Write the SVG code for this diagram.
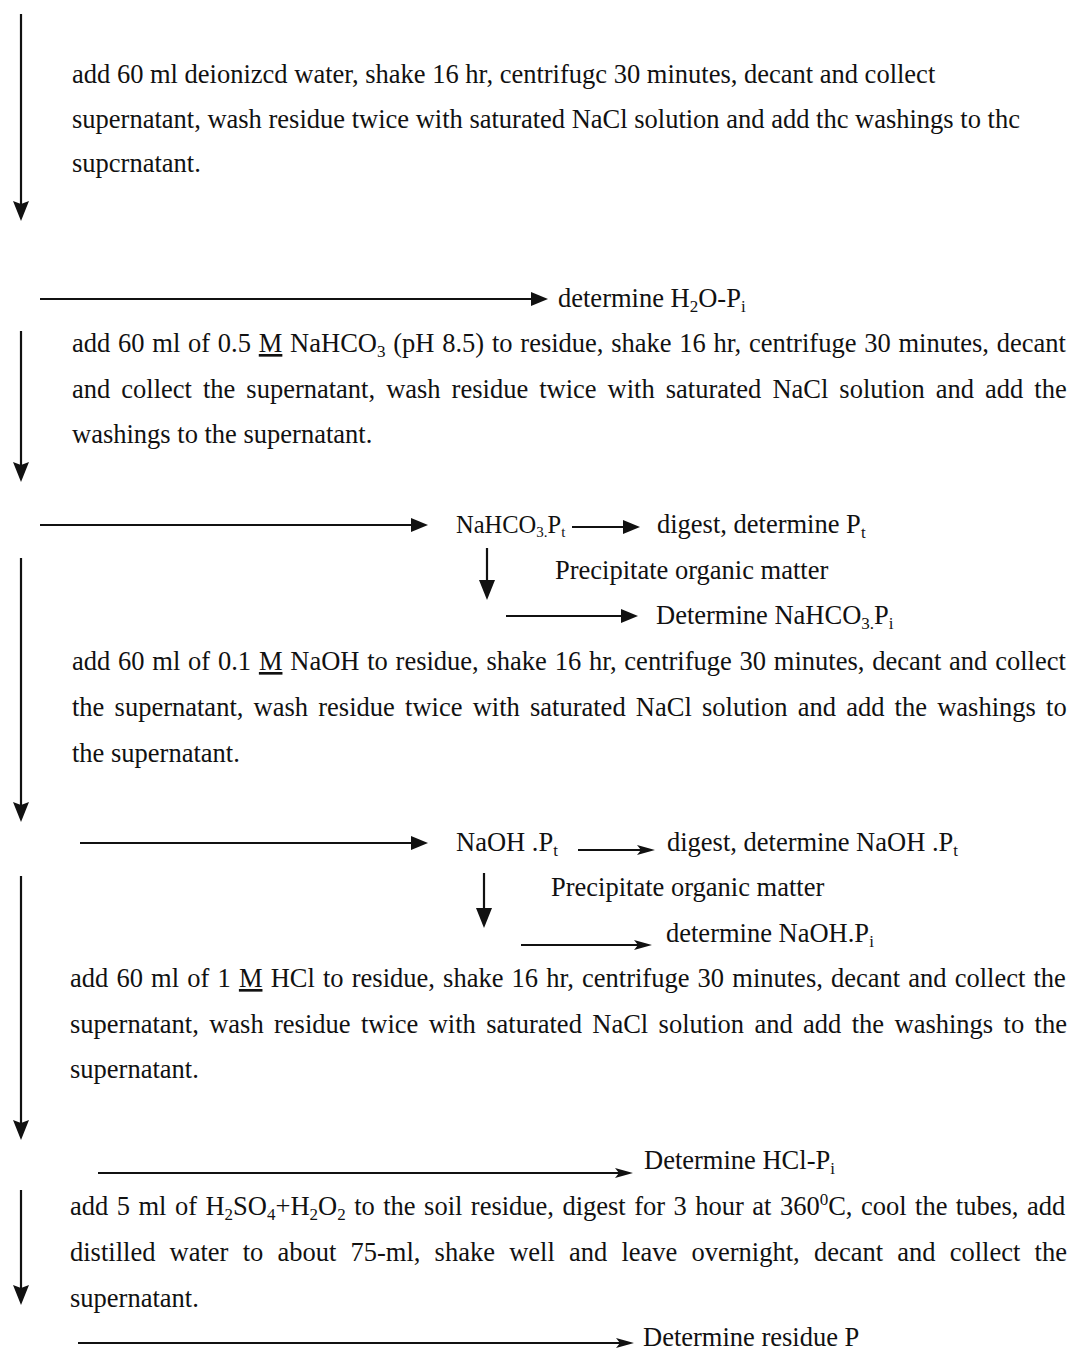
<svg xmlns="http://www.w3.org/2000/svg" width="1075" height="1353" viewBox="0 0 1075 1353">
<style>
.t{font-family:"Liberation Serif","Times New Roman",serif;font-size:26.5px;fill:#111;}
.sub{font-size:17px;}
.u{text-decoration:underline;}
.c line{stroke:#111;stroke-width:2.2;fill:none;}
</style>
<defs>
<marker id="mv" markerUnits="userSpaceOnUse" viewBox="0 0 20 16" refX="14" refY="8" markerWidth="20" markerHeight="16" orient="auto"><path d="M0,0 L20,8 L0,16 L3,8 z" fill="#111"/></marker>
<marker id="mh" markerUnits="userSpaceOnUse" viewBox="0 0 17 14" refX="11" refY="7" markerWidth="17" markerHeight="14" orient="auto"><path d="M0,0 L17,7 L0,14 z" fill="#111"/></marker>
<marker id="md" markerUnits="userSpaceOnUse" viewBox="0 0 20 16" refX="14" refY="8" markerWidth="20" markerHeight="16" orient="auto"><path d="M0,0 L20,8 L0,16 z" fill="#111"/></marker>
<marker id="mn" markerUnits="userSpaceOnUse" viewBox="0 0 18 10" refX="12" refY="5" markerWidth="18" markerHeight="10" orient="auto"><path d="M0,0 L18,5 L0,10 L4,5 z" fill="#111"/></marker>
</defs>
<rect width="1075" height="1353" fill="#fff"/>

<g id="connectors" class="c">
<line x1="21" y1="14" x2="21" y2="215" marker-end="url(#mv)"/>
<line x1="21" y1="331" x2="21" y2="476" marker-end="url(#mv)"/>
<line x1="21" y1="558" x2="21" y2="816" marker-end="url(#mv)"/>
<line x1="21" y1="876" x2="21" y2="1134" marker-end="url(#mv)"/>
<line x1="21" y1="1190" x2="21" y2="1299" marker-end="url(#mv)"/>
<line x1="40" y1="299" x2="542" y2="299" marker-end="url(#mh)"/>
<line x1="40" y1="525" x2="422" y2="525" marker-end="url(#mh)"/>
<line x1="572" y1="527" x2="634" y2="527" marker-end="url(#mh)"/>
<line x1="487" y1="548" x2="487" y2="594" marker-end="url(#md)"/>
<line x1="506" y1="616" x2="632" y2="616" marker-end="url(#mh)"/>
<line x1="80" y1="843" x2="422" y2="843" marker-end="url(#mh)"/>
<line x1="578" y1="850" x2="649" y2="850" marker-end="url(#mn)"/>
<line x1="484" y1="873" x2="484" y2="922" marker-end="url(#md)"/>
<line x1="521" y1="945" x2="646" y2="945" marker-end="url(#mn)"/>
<line x1="98" y1="1173" x2="627" y2="1173" marker-end="url(#mn)"/>
<line x1="78" y1="1343" x2="628" y2="1343" marker-end="url(#mn)"/>
</g>

<g id="step-water">
<text class="t" x="72" y="83">add 60 ml deionizcd water, shake 16 hr, centrifugc 30 minutes, decant and collect</text>
<text class="t" x="72" y="128">supernatant, wash residue twice with saturated NaCl solution and add thc washings to thc</text>
<text class="t" x="72" y="172">supcrnatant.</text>
</g>

<g id="result-h2o">
<text class="t" x="558" y="307">determine H<tspan class="sub" dy="5">2</tspan><tspan dy="-5">O-P</tspan><tspan class="sub" dy="5">i</tspan></text>
</g>

<g id="step-nahco3">
<text class="t" x="72" y="352" style="word-spacing:1.14px">add 60 ml of 0.5 <tspan class="u">M</tspan> NaHCO<tspan class="sub" dy="5">3</tspan><tspan dy="-5"> (pH 8.5) to residue, shake 16 hr, centrifuge 30 minutes, decant</tspan></text>
<text class="t" x="72" y="398" style="word-spacing:4.4px">and collect the supernatant, wash residue twice with saturated NaCl solution and add the</text>
<text class="t" x="72" y="443">washings to the supernatant.</text>
</g>

<g id="nahco3-pt">
<text class="t" x="456" y="533" style="font-size:24.5px">NaHCO<tspan class="sub" style="font-size:15px" dy="4">3.</tspan><tspan dy="-4">P</tspan><tspan class="sub" style="font-size:15px" dy="4">t</tspan></text>
</g>
<g id="nahco3-digest">
<text class="t" x="657" y="533">digest, determine P<tspan class="sub" dy="5">t</tspan></text>
</g>
<g id="nahco3-precip">
<text class="t" x="555" y="579">Precipitate organic matter</text>
</g>
<g id="nahco3-pi">
<text class="t" x="656" y="624">Determine NaHCO<tspan class="sub" dy="5">3.</tspan><tspan dy="-5">P</tspan><tspan class="sub" dy="5">i</tspan></text>
</g>

<g id="step-naoh">
<text class="t" x="72" y="670" style="word-spacing:1.16px">add 60 ml of 0.1 <tspan class="u">M</tspan> NaOH to residue, shake 16 hr, centrifuge 30 minutes, decant and collect</text>
<text class="t" x="72" y="716" style="word-spacing:3.6px">the supernatant, wash residue twice with saturated NaCl solution and add the washings to</text>
<text class="t" x="72" y="762">the supernatant.</text>
</g>

<g id="naoh-pt">
<text class="t" x="456" y="851">NaOH .P<tspan class="sub" dy="5">t</tspan></text>
</g>
<g id="naoh-digest">
<text class="t" x="667" y="851">digest, determine NaOH .P<tspan class="sub" dy="5">t</tspan></text>
</g>
<g id="naoh-precip">
<text class="t" x="551" y="896">Precipitate organic matter</text>
</g>
<g id="naoh-pi">
<text class="t" x="666" y="942">determine NaOH.P<tspan class="sub" dy="5">i</tspan></text>
</g>

<g id="step-hcl">
<text class="t" x="70" y="987" style="word-spacing:1.54px">add 60 ml of 1 <tspan class="u">M</tspan> HCl to residue, shake 16 hr, centrifuge 30 minutes, decant and collect the</text>
<text class="t" x="70" y="1033" style="word-spacing:3.77px">supernatant, wash residue twice with saturated NaCl solution and add the washings to the</text>
<text class="t" x="70" y="1078">supernatant.</text>
</g>

<g id="hcl-pi">
<text class="t" x="644" y="1169">Determine HCl-P<tspan class="sub" dy="5">i</tspan></text>
</g>

<g id="step-digest">
<text class="t" x="70" y="1215" style="word-spacing:1.84px">add 5 ml of H<tspan class="sub" dy="5">2</tspan><tspan dy="-5">SO</tspan><tspan class="sub" dy="5">4</tspan><tspan dy="-5">+H</tspan><tspan class="sub" dy="5">2</tspan><tspan dy="-5">O</tspan><tspan class="sub" dy="5">2</tspan><tspan dy="-5"> to the soil residue, digest for 3 hour at 360</tspan><tspan class="sub" dy="-10">0</tspan><tspan dy="10">C, cool the tubes, add</tspan></text>
<text class="t" x="70" y="1261" style="word-spacing:7.57px">distilled water to about 75-ml, shake well and leave overnight, decant and collect the</text>
<text class="t" x="70" y="1307">supernatant.</text>
</g>

<g id="residue-p">
<text class="t" x="643" y="1346">Determine residue P</text>
</g>
</svg>
